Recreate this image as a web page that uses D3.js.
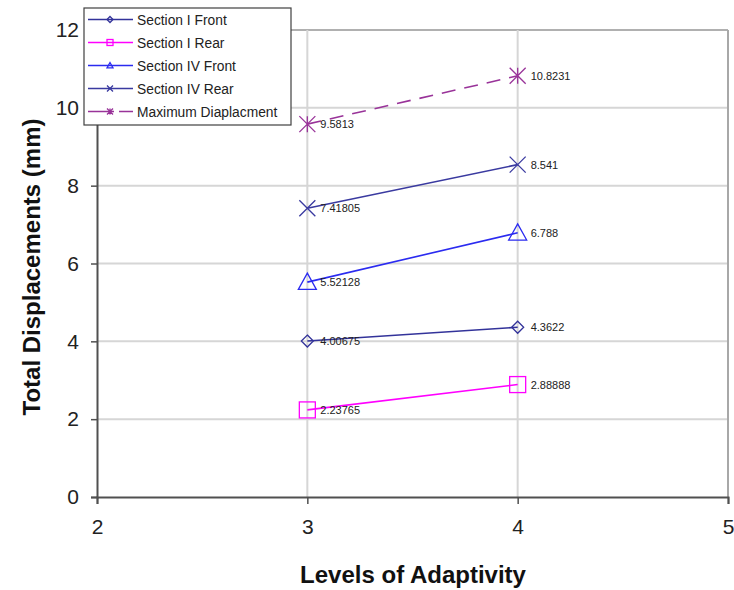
<html>
<head>
<meta charset="utf-8">
<title>Total Displacements</title>
<style>
  body { margin: 0; background: #fff; }
  text { font-family: Arial, "Liberation Sans", sans-serif; }
</style>
</head>
<body>
<div id="chart"></div>
<script src="https://cdn.jsdelivr.net/npm/d3@7"></script>
<script>
var levels = [3, 4];
var sectionIFront = [4.00675, 4.3622];
var sectionIRear = [2.23765, 2.88888];
var sectionIVFront = [5.52128, 6.788];
var sectionIVRear = [7.41805, 8.541];
var maxDisplacement = [9.5813, 10.8231];
var xTicks = [2, 3, 4, 5];
var yTicks = [0, 2, 4, 6, 8, 10, 12];
var seriesNames = ["Section I Front", "Section I Rear", "Section IV Front", "Section IV Rear", "Maximum Diaplacment"];

var series = [
  { name: seriesNames[0], values: sectionIFront, color: "#33339a", marker: "diamond", dash: null },
  { name: seriesNames[1], values: sectionIRear, color: "#ff00ff", marker: "square", dash: null },
  { name: seriesNames[2], values: sectionIVFront, color: "#2b2bf0", marker: "triangle", dash: null },
  { name: seriesNames[3], values: sectionIVRear, color: "#3a3aa0", marker: "cross", dash: null },
  { name: seriesNames[4], values: maxDisplacement, color: "#993399", marker: "star", dash: "14,9" }
];

var width = 734, height = 590;
var plotLeft = 97, plotRight = 728, plotTop = 30, plotBottom = 497;

var svg = d3.select("#chart").append("svg").attr("width", width).attr("height", height);

var x = d3.scaleLinear().domain([2, 5]).range([plotLeft, plotRight]);
var y = d3.scaleLinear().domain([0, 12]).range([plotBottom, plotTop]);

// grid
svg.append("g").selectAll("line").data(yTicks.slice(1)).enter().append("line")
  .attr("x1", plotLeft).attr("x2", plotRight)
  .attr("y1", function(d) { return y(d); }).attr("y2", function(d) { return y(d); })
  .attr("stroke", function(d) { return d == 12 ? "#b0b0b0" : "#d6d6d6"; })
  .attr("stroke-width", 2);
svg.append("g").selectAll("line").data(xTicks.slice(1)).enter().append("line")
  .attr("y1", plotTop).attr("y2", plotBottom)
  .attr("x1", function(d) { return x(d); }).attr("x2", function(d) { return x(d); })
  .attr("stroke", function(d) { return d == 5 ? "#a8a8a8" : "#d6d6d6"; })
  .attr("stroke-width", 2);

// axes
var xAxis = svg.append("g").attr("transform", "translate(0," + plotBottom + ")")
  .call(d3.axisBottom(x).tickValues(xTicks).tickFormat(d3.format("d")).tickSize(7).tickPadding(15));
var yAxis = svg.append("g").attr("transform", "translate(" + plotLeft + ",0)")
  .call(d3.axisLeft(y).tickValues(yTicks).tickFormat(d3.format("d")).tickSize(6).tickPadding(12));
[xAxis, yAxis].forEach(function(a) {
  a.select(".domain").attr("stroke", "#505050").attr("stroke-width", 2);
  a.selectAll(".tick line").attr("stroke", "#505050").attr("stroke-width", 1.5);
  a.selectAll(".tick text").attr("font-size", 21).attr("fill", "#222")
    .attr("font-family", "Arial, 'Liberation Sans', sans-serif");
});

// axis titles
svg.append("text").attr("x", 413).attr("y", 583)
  .attr("text-anchor", "middle").attr("font-size", 24).attr("font-weight", "bold").attr("fill", "#111")
  .text("Levels of Adaptivity");
svg.append("text").attr("transform", "translate(40,267) rotate(-90)")
  .attr("text-anchor", "middle").attr("font-size", 24).attr("font-weight", "bold").attr("fill", "#111")
  .text("Total Displacements (mm)");

function drawMarker(g, type, cx, cy, s, color) {
  var sw = 1.3;
  if (type == "diamond") {
    g.append("path").attr("d", "M" + cx + "," + (cy - s) + "L" + (cx + s) + "," + cy + "L" + cx + "," + (cy + s) + "L" + (cx - s) + "," + cy + "Z")
      .attr("fill", "none").attr("stroke", color).attr("stroke-width", sw);
  } else if (type == "square") {
    g.append("rect").attr("x", cx - s).attr("y", cy - s).attr("width", 2 * s).attr("height", 2 * s)
      .attr("fill", "none").attr("stroke", color).attr("stroke-width", sw);
  } else if (type == "triangle") {
    g.append("path").attr("d", "M" + cx + "," + (cy - s) + "L" + (cx + s) + "," + (cy + s * 0.8) + "L" + (cx - s) + "," + (cy + s * 0.8) + "Z")
      .attr("fill", "none").attr("stroke", color).attr("stroke-width", sw);
  } else if (type == "cross") {
    g.append("path").attr("d", "M" + (cx - s) + "," + (cy - s) + "L" + (cx + s) + "," + (cy + s) + "M" + (cx - s) + "," + (cy + s) + "L" + (cx + s) + "," + (cy - s))
      .attr("fill", "none").attr("stroke", color).attr("stroke-width", sw);
  } else if (type == "star") {
    g.append("path").attr("d", "M" + (cx - s) + "," + (cy - s) + "L" + (cx + s) + "," + (cy + s) + "M" + (cx - s) + "," + (cy + s) + "L" + (cx + s) + "," + (cy - s) + "M" + cx + "," + (cy - s) + "L" + cx + "," + (cy + s))
      .attr("fill", "none").attr("stroke", color).attr("stroke-width", sw);
  }
}

var markerSize = { diamond: 6, square: 8, triangle: 9, cross: 8, star: 8 };

var line = d3.line().x(function(d) { return x(d[0]); }).y(function(d) { return y(d[1]); });

series.forEach(function(s) {
  var pts = levels.map(function(l, i) { return [l, s.values[i]]; });
  var g = svg.append("g");
  g.append("path").datum(pts).attr("d", line).attr("fill", "none")
    .attr("stroke", s.color).attr("stroke-width", 1.6)
    .attr("stroke-dasharray", s.dash);
  pts.forEach(function(p) {
    drawMarker(g, s.marker, x(p[0]), y(p[1]), markerSize[s.marker], s.color);
  });
  pts.forEach(function(p) {
    g.append("text").attr("x", x(p[0]) + 13).attr("y", y(p[1]) + 4)
      .attr("font-size", 11).attr("fill", "#222").text(String(p[1]));
  });
});

// legend
var lg = svg.append("g");
lg.append("rect").attr("x", 84).attr("y", 8).attr("width", 207).attr("height", 117)
  .attr("fill", "#fff").attr("stroke", "#404040").attr("stroke-width", 1.2);
series.forEach(function(s, i) {
  var ly = 19.5 + i * 23;
  lg.append("line").attr("x1", 88).attr("x2", 133).attr("y1", ly).attr("y2", ly)
    .attr("stroke", s.color).attr("stroke-width", 1.5)
    .attr("stroke-dasharray", s.dash ? "26,5,14" : null);
  drawMarker(lg, s.marker, 110, ly, 3, s.color);
  lg.append("text").attr("x", 137).attr("y", ly + 5).attr("font-size", 13.8).attr("fill", "#222").text(s.name);
});
</script>
</body>
</html>
